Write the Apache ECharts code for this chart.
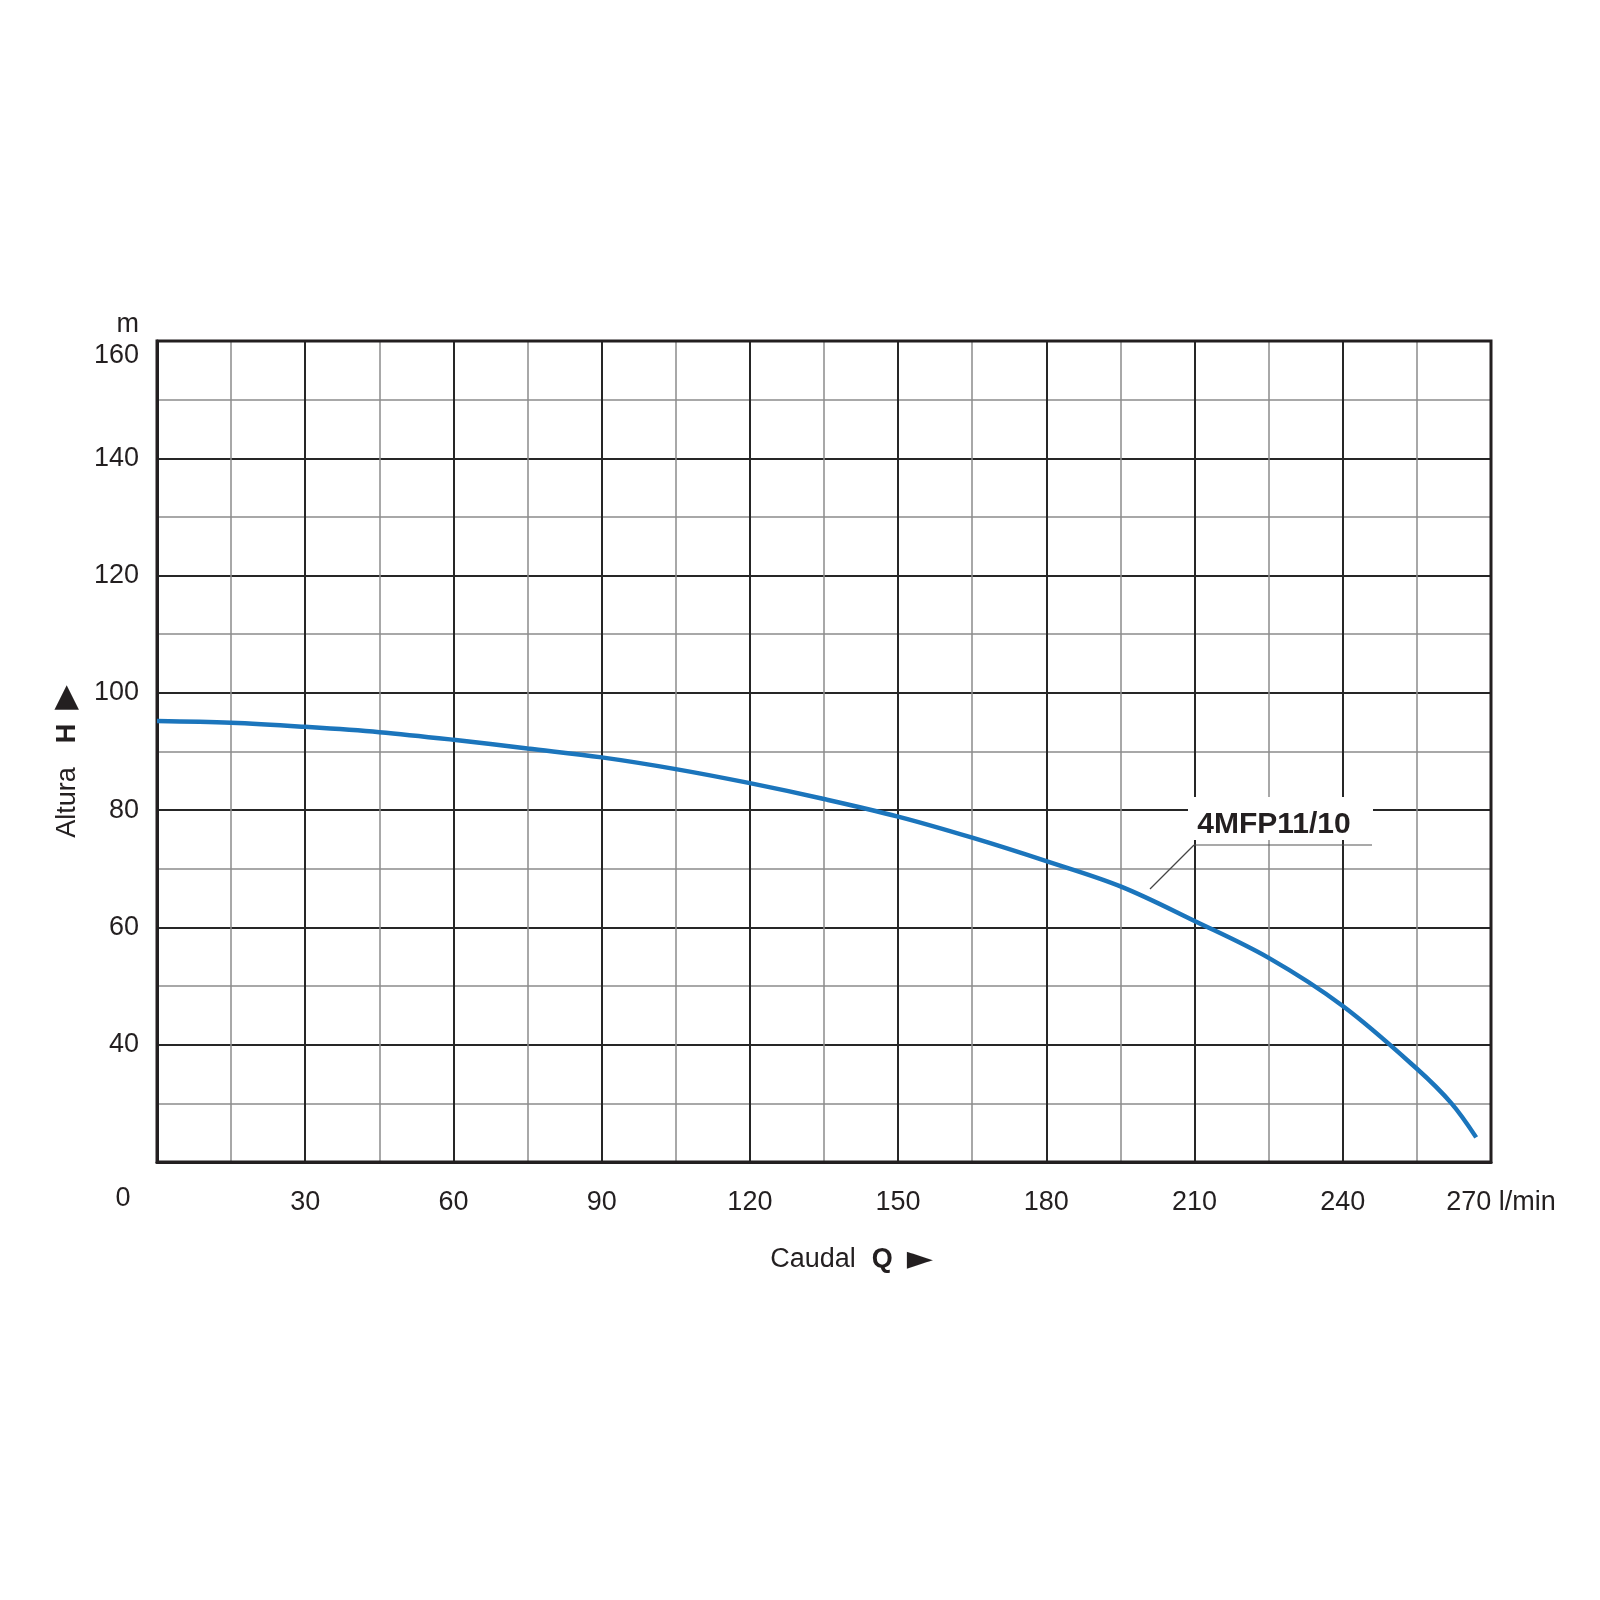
<!DOCTYPE html>
<html><head><meta charset="utf-8">
<script src="https://cdn.jsdelivr.net/npm/echarts@6/dist/echarts.min.js"></script>
<style>html,body{margin:0;padding:0;background:#fff}#c{width:1600px;height:1600px}</style>
</head><body><div id="c"></div>
<script>
const flowQ = [0, 15, 30, 45, 60, 75, 90, 105, 120, 135, 150, 165, 180, 195, 210, 225, 240, 255, 262, 267];
const headH = [95.2, 94.9, 94.2, 93.3, 92.0, 90.5, 89.0, 87.0, 84.6, 81.9, 78.9, 75.3, 71.3, 67.0, 61.1, 54.8, 46.6, 35.9, 30.0, 24.2];
const seriesName = '4MFP11/10';
const xName = 'Caudal';
const xSymbol = 'Q';
const yName = 'Altura';
const ySymbol = 'H';
const yUnit = 'm';
const xUnit = 'l/min';

const txt = '#231f20';
const font = 'Liberation Sans';
const chart = echarts.init(document.getElementById('c'));

chart.setOption({
  backgroundColor: '#fff',
  animation: false,
  grid: { left: 157, right: 109, top: 341, bottom: 438, show: true, borderColor: txt, borderWidth: 3, z: 5 },
  xAxis: {
    type: 'value', min: 0, max: 270, interval: 30,
    name: '{n|' + xName + '}{b|' + xSymbol + '}{t|►}',
    nameLocation: 'middle', nameGap: 82,
    nameTextStyle: { padding: [0, 0, 0, 55], rich: {
      n: { fontFamily: font, fontSize: 27, color: txt, lineHeight: 32, padding: [0, 16, 0, 0] },
      b: { fontFamily: font, fontSize: 27, fontWeight: 'bold', color: txt, lineHeight: 32, padding: [0, 14, 0, 0] },
      t: { fontFamily: 'DejaVu Sans', fontSize: 34, color: txt, lineHeight: 32 }
    } },
    axisLine: { show: true, lineStyle: { color: txt, width: 3 } },
    axisTick: { show: false },
    axisLabel: {
      margin: 27, fontFamily: font, fontSize: 27, color: txt,
      formatter: v => v === 0 ? '' : (v === 270 ? '{u|' + v + ' ' + xUnit + '}' : String(v)),
      rich: { u: { fontFamily: font, fontSize: 27, color: txt, padding: [0, 0, 0, 20] } }
    },
    splitLine: { show: true, lineStyle: { color: '#262626', width: 2 } },
    minorTick: { show: false, splitNumber: 2 },
    minorSplitLine: { show: true, lineStyle: { color: '#8c8c8c', width: 1.5 } }
  },
  yAxis: {
    type: 'value', min: 20, max: 160, interval: 20,
    name: '{n|' + yName + '}{b|' + ySymbol + '}{t|▶}',
    nameLocation: 'middle', nameGap: 72, nameRotate: 90,
    nameTextStyle: { padding: [0, 20, 0, 0], rich: {
      n: { fontFamily: font, fontSize: 27, color: txt, lineHeight: 32, padding: [0, 24, 0, 0] },
      b: { fontFamily: font, fontSize: 27, fontWeight: 'bold', color: txt, lineHeight: 32, padding: [0, 14, 0, 0] },
      t: { fontFamily: 'DejaVu Sans', fontSize: 32, color: txt, lineHeight: 32 }
    } },
    axisLine: { show: true, lineStyle: { color: txt, width: 3 } },
    axisTick: { show: false },
    axisLabel: {
      margin: 18, fontFamily: font, fontSize: 27, color: txt,
      formatter: v => v === 20 ? '' : (v === 160 ? '{top|' + v + '}' : String(v)),
      rich: { top: { fontFamily: font, fontSize: 27, color: txt, padding: [30, 0, 0, 0] } }
    },
    splitLine: { show: true, lineStyle: { color: '#262626', width: 2 } },
    minorTick: { show: false, splitNumber: 2 },
    minorSplitLine: { show: true, lineStyle: { color: '#8c8c8c', width: 1.5 } }
  },
  series: [{
    name: seriesName, type: 'line', smooth: 0.35, showSymbol: false, z: 10,
    data: flowQ.map((q, i) => [q, headH[i]]),
    lineStyle: { color: '#1b75bc', width: 4.5 }
  }],
  graphic: [
    { type: 'text', z: 100, x: 139, y: 325, style: { text: yUnit, fontFamily: font, fontSize: 27, fill: txt, align: 'right', verticalAlign: 'middle' } },
    { type: 'text', z: 100, x: 123, y: 1199, style: { text: '0', fontFamily: font, fontSize: 27, fill: txt, align: 'center', verticalAlign: 'middle' } },
    { type: 'rect', z: 100, shape: { x: 1188, y: 797, width: 185, height: 43 }, style: { fill: '#fff' } },
    { type: 'text', z: 101, x: 1274, y: 825, style: { text: seriesName, fontFamily: font, fontSize: 30, fontWeight: 'bold', fill: txt, align: 'center', verticalAlign: 'middle' } },
    { type: 'line', z: 101, shape: { x1: 1194, y1: 845, x2: 1372, y2: 845 }, style: { stroke: '#555', lineWidth: 1.2 } },
    { type: 'line', z: 101, shape: { x1: 1194, y1: 845, x2: 1150, y2: 889 }, style: { stroke: '#444', lineWidth: 1.2 } }
  ]
});
</script></body></html>
